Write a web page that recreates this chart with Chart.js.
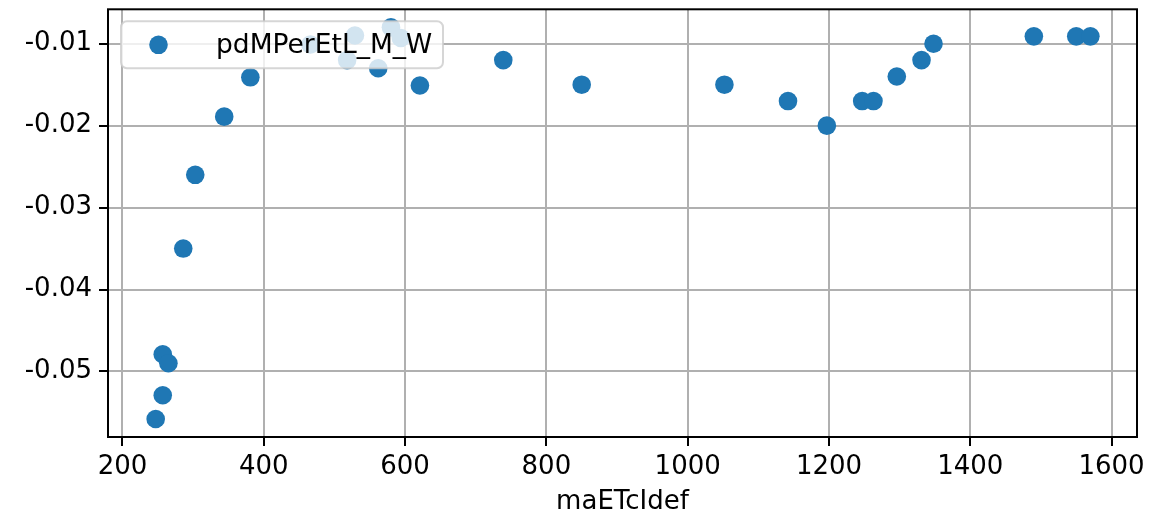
<!DOCTYPE html>
<html>
<head>
<meta charset="utf-8">
<script src="https://cdn.jsdelivr.net/npm/chart.js@4/dist/chart.umd.min.js"></script>
<style>
  html, body { margin: 0; padding: 0; background: #fff; }
</style>
</head>
<body>
<canvas id="myChart" width="1155" height="518"></canvas>
<script>
// values
var seriesName = 'pdMPerEtL_M_W';
var xTitle = 'maETcIdef';
var maETcIdef = [247, 257, 257, 265, 286, 303, 344, 381, 466, 518, 529, 562, 580, 594, 621, 739, 850,
                 1052, 1142, 1197, 1247, 1263, 1296, 1331, 1348, 1490, 1550, 1570];
var pdMPerEtL = [-0.0558, -0.0529, -0.0479, -0.0490, -0.0350, -0.0260, -0.0189, -0.0141, -0.0101, -0.0120,
                 -0.0090, -0.0130, -0.0080, -0.0093, -0.0151, -0.0120, -0.0150, -0.0150, -0.0170, -0.0200,
                 -0.0170, -0.0170, -0.0140, -0.0120, -0.0100, -0.0091, -0.0091, -0.0091];
var xTicks = [200, 400, 600, 800, 1000, 1200, 1400, 1600];
var xTickLabels = ['200', '400', '600', '800', '1000', '1200', '1400', '1600'];
var yTicks = [-0.05, -0.04, -0.03, -0.02, -0.01];
var yTickLabels = ['-0.05', '-0.04', '-0.03', '-0.02', '-0.01'];

var blue = '#1f77b4';
Chart.defaults.font.family = "'DejaVu Sans', sans-serif";
Chart.defaults.font.size = 26;
Chart.defaults.color = '#000';

var points = maETcIdef.map(function (x, i) { return { x: x, y: pdMPerEtL[i] }; });

// frame + legend box drawn inside the axes, like matplotlib
var framePlugin = {
  id: 'frameAndLegend',
  afterDatasetsDraw: function (chart) {
    var c = chart.ctx, a = chart.chartArea;
    c.save();
    c.strokeStyle = '#000';
    c.lineWidth = 2;
    c.strokeRect(a.left, a.top, a.right - a.left, a.bottom - a.top);

    var lx = a.left + 13, ly = a.top + 12, lw = 322, lh = 47, r = 6;
    c.beginPath();
    c.roundRect(lx, ly, lw, lh, r);
    c.fillStyle = 'rgba(255,255,255,0.8)';
    c.fill();
    c.strokeStyle = 'rgba(204,204,204,0.8)';
    c.lineWidth = 2;
    c.stroke();

    c.beginPath();
    c.arc(lx + 37.5, ly + lh / 2, 9.3, 0, Math.PI * 2);
    c.fillStyle = blue;
    c.fill();

    c.fillStyle = '#000';
    c.font = "26.5px 'DejaVu Sans'";
    c.textBaseline = 'middle';
    c.fillText(chart.data.datasets[0].label, lx + 95, ly + lh / 2 + 1);
    c.restore();
  }
};

var ctx = document.getElementById('myChart');
var myChart = new Chart(ctx, {
  type: 'scatter',
  data: {
    datasets: [{
      label: seriesName,
      data: points,
      backgroundColor: blue,
      borderColor: blue,
      borderWidth: 0,
      pointRadius: 9.3
    }]
  },
  options: {
    responsive: false,
    animation: false,
    devicePixelRatio: 1,
    events: [],
    layout: { padding: { left: 0, top: 8, right: 18, bottom: 0 } },
    plugins: { legend: { display: false }, tooltip: { enabled: false } },
    scales: {
      x: {
        type: 'linear',
        min: 179.5,
        max: 1636,
        afterBuildTicks: function (s) { s.ticks = xTicks.map(function (v) { return { value: v }; }); },
        afterFit: function (s) { s.height = 81; s.paddingLeft = 0; s.paddingRight = 0; },
        ticks: {
          padding: 6, maxRotation: 0, autoSkip: false,
          callback: function (v) { return xTickLabels[xTicks.indexOf(v)]; }
        },
        grid: { color: '#b0b0b0', lineWidth: 2, tickColor: '#000', tickLength: 9, tickWidth: 2 },
        border: { display: false },
        title: { display: true, text: xTitle, padding: { top: 0, bottom: 0 } }
      },
      y: {
        type: 'linear',
        min: -0.0580,
        max: -0.0058,
        afterBuildTicks: function (s) { s.ticks = yTicks.map(function (v) { return { value: v }; }); },
        afterFit: function (s) { s.width = 108; s.paddingTop = 0; s.paddingBottom = 0; },
        ticks: {
          padding: 7,
          autoSkip: false,
          callback: function (v) { return yTickLabels[yTicks.indexOf(v)]; }
        },
        grid: { color: '#b0b0b0', lineWidth: 2, tickColor: '#000', tickLength: 9, tickWidth: 2 },
        border: { display: false }
      }
    }
  },
  plugins: [framePlugin]
});
</script>
</body>
</html>
